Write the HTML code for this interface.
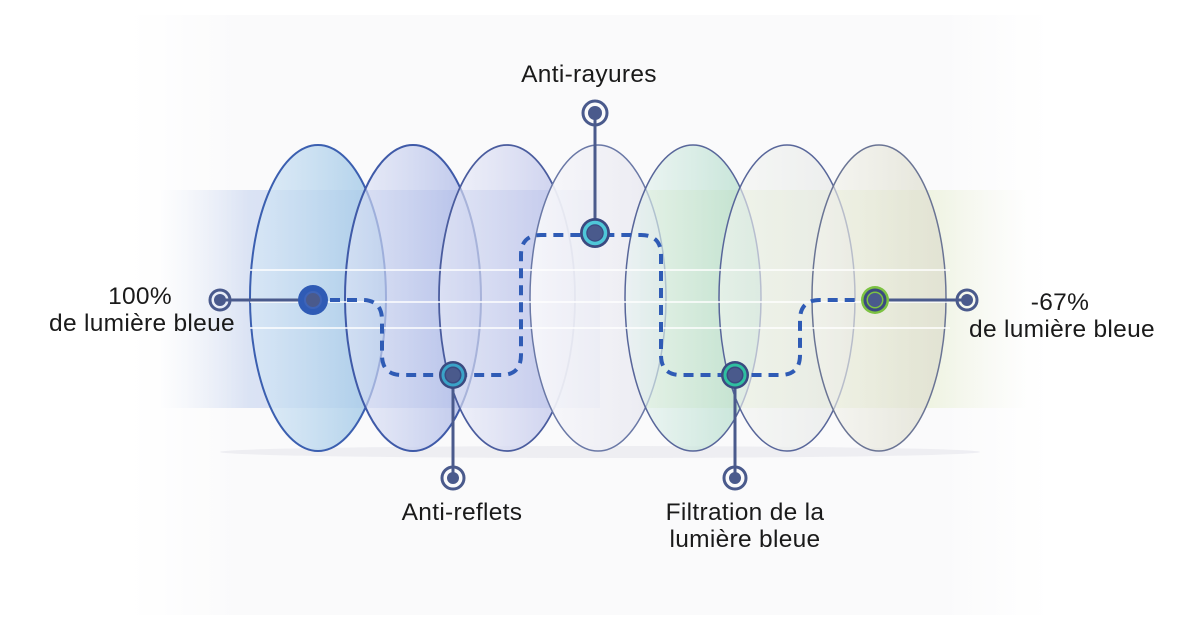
<!DOCTYPE html>
<html><head><meta charset="utf-8"><style>
html,body{margin:0;padding:0;background:#fff;}
svg{display:block}
text{font-family:"Liberation Sans","DejaVu Sans",sans-serif;font-size:24.5px;letter-spacing:0.3px;fill:#1a1a1a;}
</style></head><body>
<svg width="1200" height="630" viewBox="0 0 1200 630" xmlns="http://www.w3.org/2000/svg">
<defs>
<linearGradient id="bg" x1="0" y1="0" x2="1" y2="0">
<stop offset="0" stop-color="#ffffff"/><stop offset="0.12" stop-color="#fafafb"/><stop offset="0.88" stop-color="#fafafb"/><stop offset="1" stop-color="#ffffff"/>
</linearGradient>
<linearGradient id="bandL" x1="0" y1="0" x2="1" y2="0">
<stop offset="0" stop-color="#dfe6f5" stop-opacity="0"/><stop offset="0.2" stop-color="#c9d6f0" stop-opacity="0.8"/><stop offset="1" stop-color="#b9c4ea"/>
</linearGradient>
<linearGradient id="bandR" x1="0" y1="0" x2="1" y2="0">
<stop offset="0" stop-color="#e4efd6"/><stop offset="0.7" stop-color="#e9f0d6"/><stop offset="1" stop-color="#f4f7e8" stop-opacity="0"/>
</linearGradient>
<linearGradient id="l1" x1="0" y1="0" x2="1" y2="0">
<stop offset="0" stop-color="#d6e7f6" stop-opacity="0.7"/><stop offset="1" stop-color="#9fc7e6" stop-opacity="0.85"/>
</linearGradient>
<linearGradient id="l2" x1="0" y1="0" x2="1" y2="0">
<stop offset="0" stop-color="#e2e6f6" stop-opacity="0.6"/><stop offset="1" stop-color="#a9b6e6" stop-opacity="0.8"/>
</linearGradient>
<linearGradient id="l3" x1="0" y1="0" x2="1" y2="0">
<stop offset="0" stop-color="#eceef8" stop-opacity="0.6"/><stop offset="1" stop-color="#bcc2ea" stop-opacity="0.8"/>
</linearGradient>
<linearGradient id="l4" x1="0" y1="0" x2="1" y2="0">
<stop offset="0" stop-color="#f8f8fb" stop-opacity="0.92"/><stop offset="1" stop-color="#e8e8f0" stop-opacity="0.9"/>
</linearGradient>
<linearGradient id="l5" x1="0" y1="0" x2="1" y2="0">
<stop offset="0" stop-color="#e9f4f2" stop-opacity="0.6"/><stop offset="1" stop-color="#a9d8c4" stop-opacity="0.7"/>
</linearGradient>
<linearGradient id="l6" x1="0" y1="0" x2="1" y2="0">
<stop offset="0" stop-color="#f4f6f2" stop-opacity="0.6"/><stop offset="1" stop-color="#e4e6e6" stop-opacity="0.7"/>
</linearGradient>
<linearGradient id="l7" x1="0" y1="0" x2="1" y2="0">
<stop offset="0" stop-color="#f4f4ee" stop-opacity="0.6"/><stop offset="1" stop-color="#dcdccc" stop-opacity="0.75"/>
</linearGradient>
</defs>
<rect width="1200" height="630" fill="#ffffff"/>
<rect x="130" y="15" width="920" height="600" fill="url(#bg)"/>
<ellipse cx="600" cy="452" rx="380" ry="6" fill="#e6e6ec" opacity="0.6"/>
<rect x="160" y="190" width="440" height="218" fill="url(#bandL)" opacity="0.8"/>
<rect x="640" y="190" width="390" height="218" fill="url(#bandR)" opacity="0.85"/>
<ellipse cx="318" cy="298" rx="68" ry="153" fill="url(#l1)" stroke="#3b5fb0" stroke-width="2"/>
<ellipse cx="413" cy="298" rx="68" ry="153" fill="url(#l2)" stroke="#3f5aa8" stroke-width="2"/>
<ellipse cx="507" cy="298" rx="68" ry="153" fill="url(#l3)" stroke="#4a5c9e" stroke-width="1.8"/>
<ellipse cx="598" cy="298" rx="68" ry="153" fill="url(#l4)" stroke="#6a78a6" stroke-width="1.5"/>
<ellipse cx="693" cy="298" rx="68" ry="153" fill="url(#l5)" stroke="#58669a" stroke-width="1.5"/>
<ellipse cx="787" cy="298" rx="68" ry="153" fill="url(#l6)" stroke="#58669a" stroke-width="1.5"/>
<ellipse cx="879" cy="298" rx="67" ry="153" fill="url(#l7)" stroke="#6a7494" stroke-width="1.5"/>
<g stroke="#ffffff" stroke-width="2" opacity="0.75">
<line x1="250" y1="270" x2="950" y2="270"/>
<line x1="250" y1="302" x2="950" y2="302"/>
<line x1="250" y1="328" x2="950" y2="328"/>
</g>
<path d="M313 300 H362 Q382 300 382 320 V355 Q382 375 402 375 H501 Q521 375 521 355 V255 Q521 235 541 235 H641 Q661 235 661 255 V355 Q661 375 681 375 H780 Q800 375 800 355 V320 Q800 300 820 300 H875" fill="none" stroke="#2f5bb5" stroke-width="4" stroke-dasharray="10 7"/>
<g stroke="#4a5a8c" stroke-width="3">
<line x1="220" y1="300" x2="313" y2="300"/>
<line x1="875" y1="300" x2="967" y2="300"/>
<line x1="595" y1="113" x2="595" y2="233"/>
<line x1="453" y1="375" x2="453" y2="478"/>
<line x1="735" y1="375" x2="735" y2="478"/>
</g>
<g fill="none" stroke="#4a5a8c" stroke-width="3">
<circle cx="220" cy="300" r="10"/>
<circle cx="967" cy="300" r="10"/>
<circle cx="595" cy="113" r="12"/>
<circle cx="453" cy="478" r="11"/>
<circle cx="735" cy="478" r="11"/>
</g>
<g fill="#4a5a8c">
<circle cx="220" cy="300" r="6"/>
<circle cx="967" cy="300" r="6"/>
<circle cx="595" cy="113" r="7"/>
<circle cx="453" cy="478" r="6"/>
<circle cx="735" cy="478" r="6"/>
</g>
<circle cx="313" cy="300" r="15" fill="#2f5bb5"/>
<circle cx="313" cy="300" r="8" fill="#4a5a8c" stroke="#3e64b8" stroke-width="2"/>
<circle cx="453" cy="375" r="14" fill="#3b4a80"/>
<circle cx="453" cy="375" r="10" fill="none" stroke="#3aa3c8" stroke-width="3"/>
<circle cx="453" cy="375" r="7" fill="#4a5a8c"/>
<circle cx="595" cy="233" r="15" fill="#3b4a80"/>
<circle cx="595" cy="233" r="10.5" fill="none" stroke="#4fc7d8" stroke-width="3.5"/>
<circle cx="595" cy="233" r="7.5" fill="#4a5a8c"/>
<circle cx="735" cy="375" r="14" fill="#3b4a80"/>
<circle cx="735" cy="375" r="10" fill="none" stroke="#2fbfa0" stroke-width="3"/>
<circle cx="735" cy="375" r="7" fill="#4a5a8c"/>
<circle cx="875" cy="300" r="14" fill="#7cc242"/>
<circle cx="875" cy="300" r="10" fill="none" stroke="#3b4a80" stroke-width="3"/>
<circle cx="875" cy="300" r="7" fill="#4a5a8c"/>
<text x="589" y="82" text-anchor="middle">Anti-rayures</text>
<text x="140" y="304" text-anchor="middle">100%</text>
<text x="142" y="331" text-anchor="middle">de lumière bleue</text>
<text x="1060" y="310" text-anchor="middle">-67%</text>
<text x="1062" y="337" text-anchor="middle">de lumière bleue</text>
<text x="462" y="520" text-anchor="middle">Anti-reflets</text>
<text x="745" y="520" text-anchor="middle">Filtration de la</text>
<text x="745" y="547" text-anchor="middle">lumière bleue</text>
</svg>
</body></html>
